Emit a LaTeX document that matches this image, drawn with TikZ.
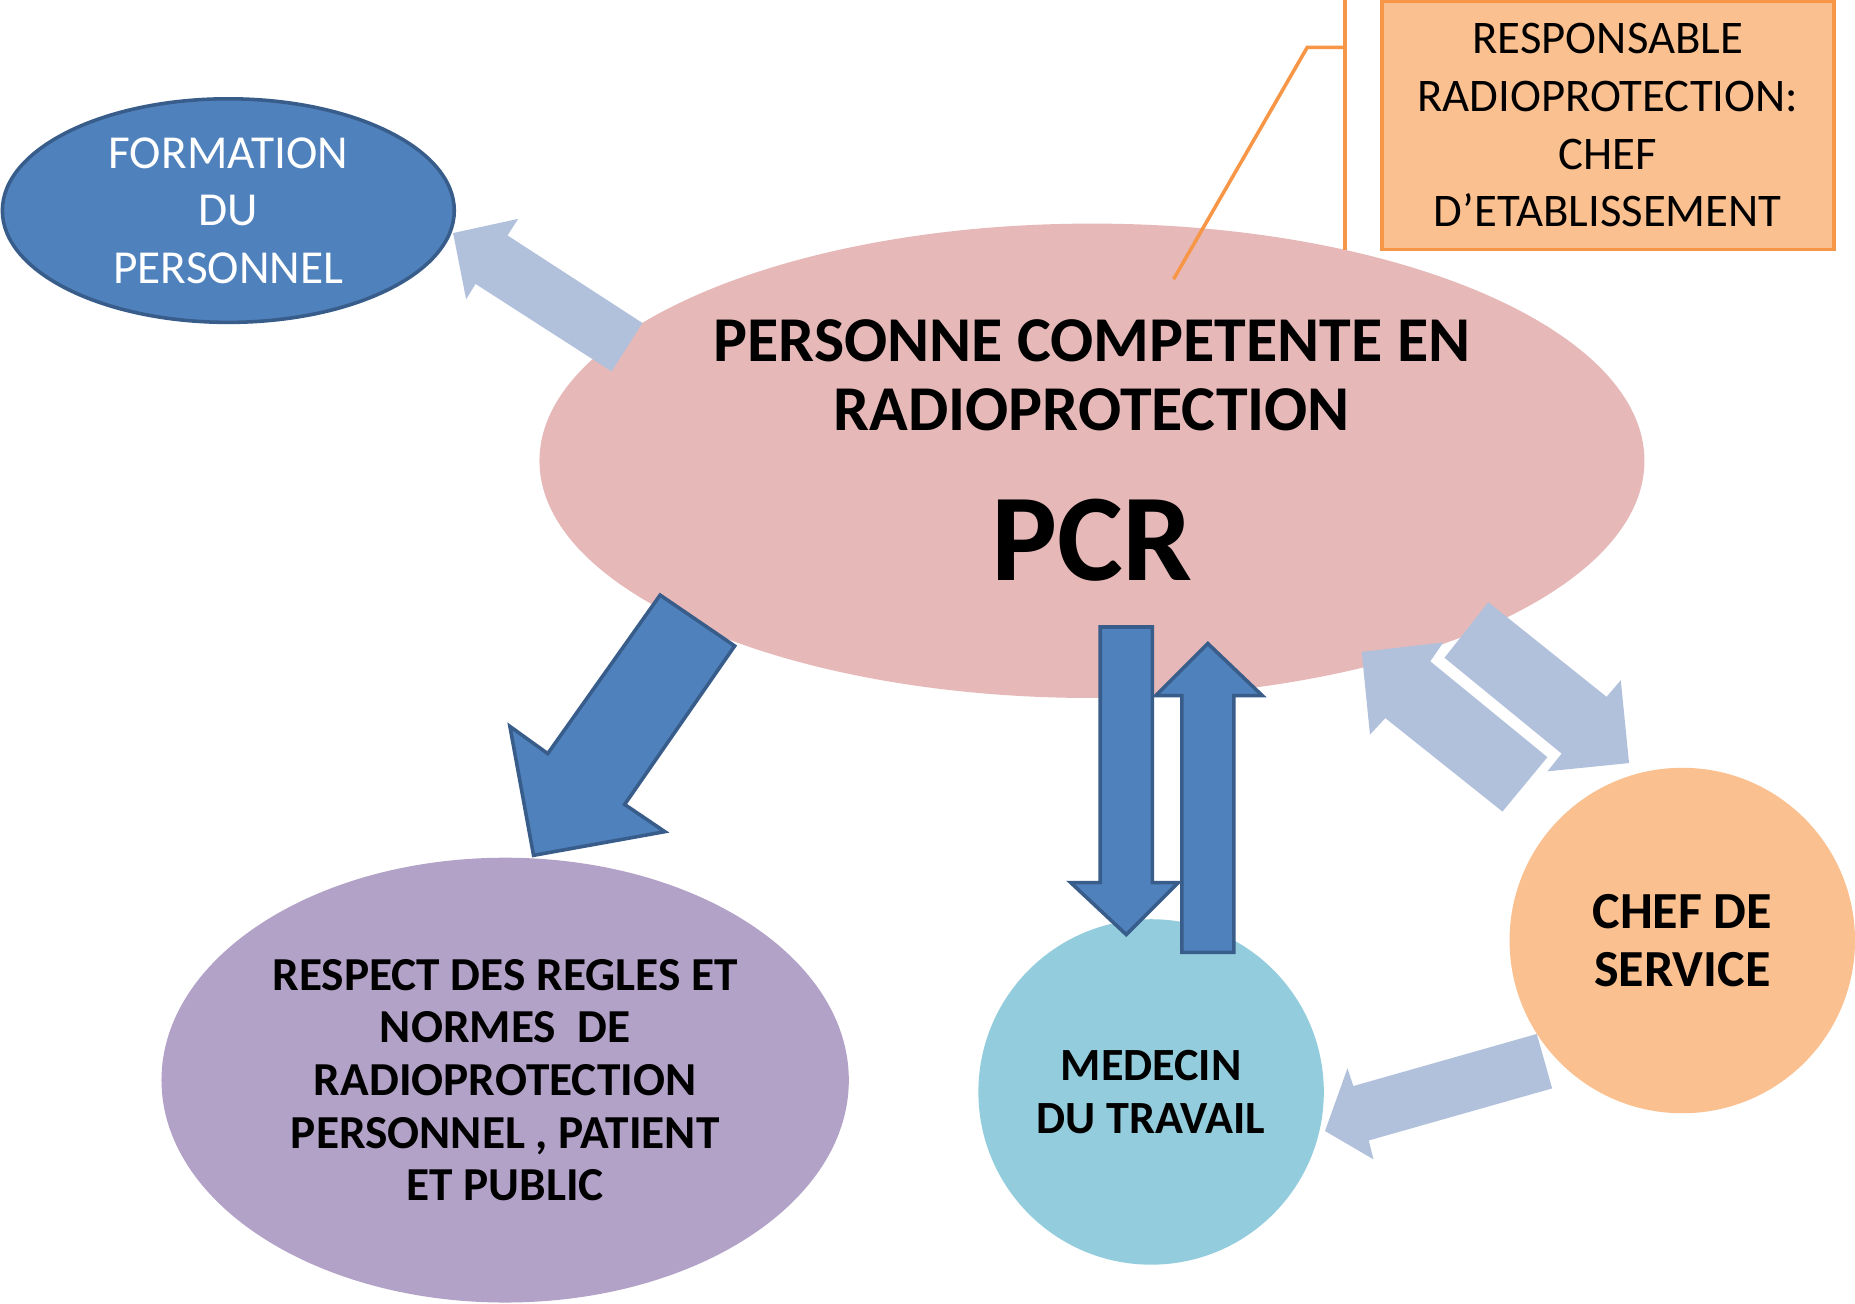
\documentclass[tikz,border=0pt]{standalone}
\usepackage{fontspec}
\setmainfont{Carlito}
\usetikzlibrary{shapes.geometric}
\definecolor{blueA}{HTML}{4F81BD}
\definecolor{blueB}{HTML}{385D8A}
\definecolor{lightA}{HTML}{B2C1DB}
\definecolor{pinkA}{HTML}{E6B9B8}
\definecolor{peachA}{HTML}{FAC090}
\definecolor{orangeA}{HTML}{F79646}
\definecolor{lavA}{HTML}{B3A2C7}
\definecolor{cyanA}{HTML}{93CDDD}
\tikzset{
  bigarrow/.style={fill=blueA, draw=blueB, line width=3pt, line join=miter},
  softarrow/.style={fill=lightA, draw=none},
  shapebase/.style={inner sep=0pt, align=center, text=black},
}
\begin{document}
\begin{tikzpicture}[x=1pt,y=-1pt]
\useasboundingbox (0,0) rectangle (1568,1102);
\fill[white] (0,0) rectangle (1568,1102);

% main shapes
\node[shapebase, ellipse, fill=pinkA, minimum width=934pt, minimum height=401pt] (pcr) at (923,389.5) {};
\node[shapebase, ellipse, fill=lavA, minimum width=581pt, minimum height=376pt,
      font=\bfseries\fontsize{40}{44.5}\selectfont] (respect) at (427,913)
      {RESPECT DES REGLES ET\\NORMES\ \ DE\\RADIOPROTECTION\\PERSONNEL , PATIENT\\ET PUBLIC};
\node[shapebase, circle, fill=cyanA, minimum size=292pt,
      font=\bfseries\fontsize{39}{45}\selectfont] (medecin) at (973,923)
      {MEDECIN\\DU TRAVAIL};
\node[shapebase, circle, fill=peachA, minimum size=292pt,
      font=\bfseries\fontsize{44}{49}\selectfont] (chef) at (1422,795)
      {CHEF DE\\SERVICE};
\node[shapebase, ellipse, fill=blueA, draw=blueB, line width=3pt, text=white,
      minimum width=382pt, minimum height=189pt,
      font=\fontsize{40}{48.5}\selectfont] (formation) at (193,178)
      {FORMATION\\DU\\PERSONNEL};

% text of the central ellipse
\node[shapebase, font=\bfseries\fontsize{54}{58}\selectfont] (pcrtitle) at (923,317)
      {PERSONNE COMPETENTE EN\\RADIOPROTECTION};
\node[shapebase, font=\bfseries\fontsize{105}{110}\selectfont] (pcrabbr) at (923,457) {PCR};

% callout box
\node[shapebase, rectangle, fill=peachA, draw=orangeA, line width=3pt,
      minimum width=382pt, minimum height=210pt,
      font=\fontsize{39.5}{48.7}\selectfont] (resp) at (1359,106)
      {RESPONSABLE\\RADIOPROTECTION:\\CHEF\\D’ETABLISSEMENT};
\coordinate (calloutend) at (992,236);
\coordinate (calloutknee) at (1105,40);
\coordinate (barmid) at (1137,40);
\draw[orangeA, line width=3pt] (1137,0) -- (1137,211);
\draw[orangeA, line width=3pt, line join=miter] (calloutend) -- (calloutknee) -- (barmid);

% arrow PCR -> formation
\fill[softarrow] (383,197) -- (438,185) -- (429,199) -- (543,273) -- (517,314) -- (402,240) -- (394,253) -- cycle;

% arrow PCR -> respect
\draw[bigarrow] (558,503) -- (621,546) -- (528,680) -- (562,703) -- (451,723) -- (431,614) -- (463,637) -- cycle;

% arrows PCR <-> medecin
\draw[bigarrow] (930,530) -- (974,530) -- (974,746) -- (996,746) -- (952,790) -- (905,746) -- (930,746) -- cycle;
\draw[bigarrow] (999,805) -- (1043,805) -- (1043,588) -- (1067,588) -- (1021,544) -- (977,588) -- (999,588) -- cycle;

% arrows PCR <-> chef
\fill[softarrow] (1151,551) -- (1220,543) -- (1209,559) -- (1308,640) -- (1270,686) -- (1171,607) -- (1158,621) -- cycle;
\fill[softarrow] (1258,509) -- (1358,589) -- (1370,575) -- (1377,645) -- (1308,652) -- (1320,637) -- (1221,556) -- cycle;

% arrow chef -> medecin
\fill[softarrow] (1299,874) -- (1312,920) -- (1157,964) -- (1161,980) -- (1120,956) -- (1139,903) -- (1144,918) -- cycle;
\end{tikzpicture}
\end{document}
